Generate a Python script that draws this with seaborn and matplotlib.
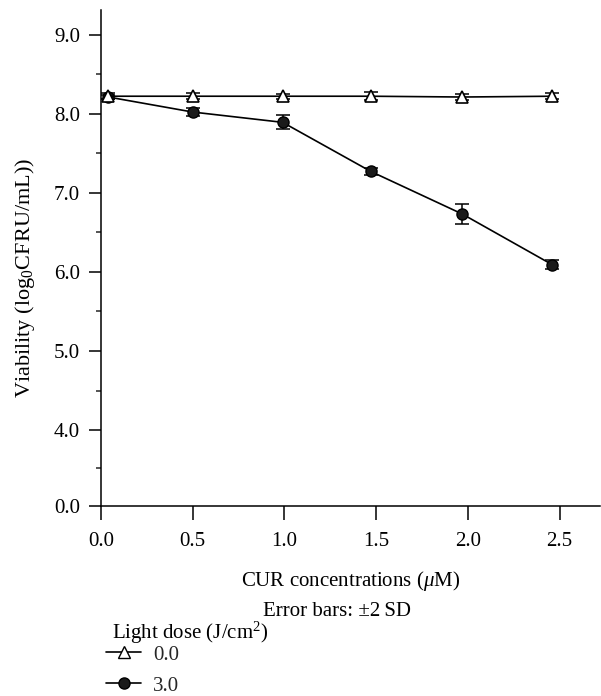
import numpy as np
import pandas as pd
import matplotlib
matplotlib.use("Agg")
import matplotlib.pyplot as plt
from matplotlib.lines import Line2D
from matplotlib.ticker import FixedLocator
import seaborn as sns

# ---- data ----
conc = [0.04, 0.50, 0.99, 1.47, 1.97, 2.46]
dose0_mean = [8.22, 8.22, 8.22, 8.22, 8.21, 8.22]
dose0_err = [0.04, 0.04, 0.03, 0.05, 0.04, 0.04]
dose3_mean = [8.21, 8.02, 7.89, 7.27, 6.73, 6.09]
dose3_err = [0.03, 0.05, 0.09, 0.04, 0.13, 0.06]
dose_labels = ["0.0", "3.0"]
ytick_labels = ["0.0", "4.0", "5.0", "6.0", "7.0", "8.0", "9.0"]
ytick_values = [0.0, 4.0, 5.0, 6.0, 7.0, 8.0, 9.0]
xtick_values = [0.0, 0.5, 1.0, 1.5, 2.0, 2.5]

# broken axis: 0.0 drawn just below 4.0
ZERO_POS = 3.04
def ypos(v):
    return ZERO_POS if v == 0 else v

FS = 15

sns.set_theme(style="ticks")
plt.rcParams["font.family"] = ["Liberation Serif", "DejaVu Serif"]
plt.rcParams["mathtext.fontset"] = "custom"
plt.rcParams["mathtext.rm"] = "Liberation Serif"
plt.rcParams["mathtext.it"] = "Liberation Serif:italic"

df = pd.DataFrame({
    "conc": conc * 2,
    "viab": dose0_mean + dose3_mean,
    "err": dose0_err + dose3_err,
    "dose": [dose_labels[0]] * len(conc) + [dose_labels[1]] * len(conc),
})

fig = plt.figure(figsize=(6.01, 6.96), dpi=100)
ax = fig.add_axes([101 / 601, 1 - 506 / 696, 499 / 601, 496 / 696])

# error bars
for lab in [dose_labels[1], dose_labels[0]]:
    sub = df[df["dose"] == lab]
    ax.errorbar(sub["conc"], sub["viab"], yerr=sub["err"], fmt="none",
                ecolor="black", elinewidth=1.1, capsize=4.8, capthick=1.1, zorder=2)

sns.lineplot(data=df[df["dose"] == dose_labels[1]], x="conc", y="viab", ax=ax,
             color="black", linewidth=1.2, marker="o", markersize=8,
             markerfacecolor="#1a1a1a", markeredgecolor="black", markeredgewidth=1.0,
             zorder=3, legend=False)
sns.lineplot(data=df[df["dose"] == dose_labels[0]], x="conc", y="viab", ax=ax,
             color="black", linewidth=1.2, marker="^", markersize=8.5,
             markerfacecolor="white", markeredgecolor="black", markeredgewidth=1.2,
             zorder=4, legend=False)

ax.set_xlim(0, 2.72)
ax.set_ylim(ZERO_POS, 9.31)
ax.set_xticks(xtick_values)
ax.set_xticklabels([f"{v:.1f}" for v in xtick_values])
ax.set_yticks([ypos(v) for v in ytick_values])
ax.set_yticklabels(ytick_labels)
ax.yaxis.set_minor_locator(FixedLocator([(ZERO_POS + 4) / 2, 4.5, 5.5, 6.5, 7.5, 8.5]))

sns.despine(ax=ax)
for s in ["left", "bottom"]:
    ax.spines[s].set_linewidth(1.1)
    ax.spines[s].set_color("black")
ax.tick_params(axis="x", which="major", length=10, width=1.1, direction="out",
               labelsize=FS, pad=8.5, colors="black")
ax.tick_params(axis="y", which="major", length=8.5, width=1.1, direction="out",
               labelsize=FS, pad=6.5, colors="black")
ax.tick_params(axis="y", which="minor", length=3.5, width=1.1, direction="out")

ax.set_xlabel(r"CUR concentrations ($\mu$M)", fontsize=FS, color="black")
ax.xaxis.set_label_coords(0.5, -0.128)
ax.set_ylabel(r"Viability (log$_0$CFRU/mL))", fontsize=16, color="black")
ax.yaxis.set_label_coords(-0.128, 0.46)

fig.text(337 / 601, 1 - 611 / 696, "Error bars: \u00b12\u2009SD", ha="center", va="center",
         fontsize=FS, color="black")

# legend title drawn as text, entries as legend
fig.text(112 / 601, 1 - 633 / 696, r"Light dose (J/cm$^2$)", ha="left", va="center",
         fontsize=FS, color="black")
handles = [
    Line2D([0], [0], color="black", linewidth=1.2, marker="^", markersize=8,
           markerfacecolor="white", markeredgecolor="black"),
    Line2D([0], [0], color="black", linewidth=1.2, marker="o", markersize=8,
           markerfacecolor="#1a1a1a", markeredgecolor="black"),
]
leg = fig.legend(handles, dose_labels,
                 loc="upper left", bbox_to_anchor=(106 / 601, 1 - 645 / 696),
                 frameon=False, fontsize=FS,
                 handlelength=1.7, handletextpad=0.55, labelspacing=0.55,
                 borderpad=0, borderaxespad=0)

fig.savefig("out.png", dpi=100)
